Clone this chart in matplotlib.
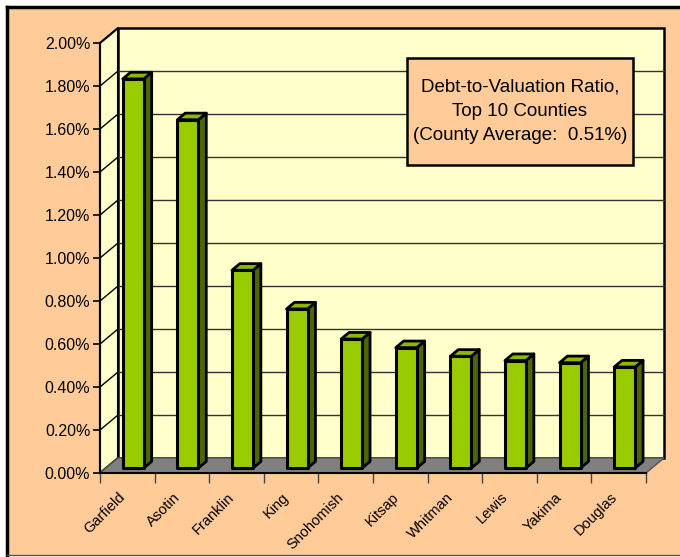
import numpy as np
import matplotlib
matplotlib.use("Agg")
import matplotlib.pyplot as plt
import matplotlib.transforms as mtransforms
from matplotlib.patches import Polygon, Rectangle
from matplotlib.ticker import FuncFormatter

counties = ["Garfield", "Asotin", "Franklin", "King", "Snohomish",
            "Kitsap", "Whitman", "Lewis", "Yakima", "Douglas"]
ratios = [0.0181, 0.0162, 0.0092, 0.0074, 0.0060,
          0.0056, 0.0052, 0.0050, 0.0049, 0.0047]
yticks = np.arange(0, 0.0201, 0.002)
title_lines = ["Debt-to-Valuation Ratio,", "Top 10 Counties", "(County Average:  0.51%)"]

W, H = 680, 557
fig = plt.figure(figsize=(W / 100, H / 100), dpi=100, facecolor="white")

# orange chart area with frame
fig.patches.append(Rectangle((7 / W, 1 - 555 / H), 1, (555 - 7) / H, transform=fig.transFigure,
                             facecolor="#FFCC99", edgecolor="none", zorder=-5))
fig.add_artist(plt.Line2D([7 / W, 1], [1 - 7 / H, 1 - 7 / H], color="black", lw=2.5))
fig.add_artist(plt.Line2D([7 / W, 7 / W], [1 - 555 / H, 1 - 7 / H], color="black", lw=2.5))
fig.add_artist(plt.Line2D([7 / W, 1], [1 - 555 / H, 1 - 555 / H], color="#555555", lw=1))

# front plane of the 3D box
left, right, top, bottom = 100, 646, 43, 473
ax = fig.add_axes([left / W, 1 - bottom / H, (right - left) / W, (bottom - top) / H])
ax.set_facecolor("none")
n = len(counties)
ax.set_xlim(0, n)
ax.set_ylim(0, 0.02)

# pixel -> data conversion for depth offsets
px_x = n / (right - left)
px_y = 0.02 / (bottom - top)
DX, DY = 18 * px_x, 15 * px_y

wall = "#FFFFCC"
kw = dict(clip_on=False)
# side wall, back wall, floor
ax.add_patch(Polygon([(0, 0), (0, 0.02), (DX, 0.02 + DY), (DX, DY)], closed=True,
                     facecolor=wall, edgecolor="black", lw=1.5, zorder=1, **kw))
ax.add_patch(Polygon([(DX, DY), (n + DX, DY), (n + DX, 0.02 + DY), (DX, 0.02 + DY)], closed=True,
                     facecolor=wall, edgecolor="black", lw=1.8, zorder=1, **kw))
for t in yticks[1:-1]:
    ax.plot([DX, n + DX], [t + DY, t + DY], color="#333333", lw=1, zorder=2, **kw)
for t in yticks[1:]:
    ax.plot([0, DX], [t, t + DY], color="black", lw=1, zorder=2, **kw)
ax.add_patch(Polygon([(0, 0), (n, 0), (n + DX, DY), (DX, DY)], closed=True,
                     facecolor="#808080", edgecolor="#555555", lw=1, zorder=3, **kw))

# bars
f0, f1 = 0.33, 0.77
hw = 10.5 * px_x
ddx, ddy = (f1 - f0) * DX, (f1 - f0) * DY
for i, v in enumerate(ratios):
    c = i + 0.5
    x0, x1 = c - hw + f0 * DX, c + hw + f0 * DX
    y0, y1 = f0 * DY, v + f0 * DY
    ax.add_patch(Polygon([(x1, y0), (x1 + ddx, y0 + ddy), (x1 + ddx, y1 + ddy), (x1, y1)],
                         closed=True, facecolor="#4D6600", edgecolor="black", lw=2,
                         joinstyle="round", zorder=4, **kw))
    ax.add_patch(Polygon([(x0, y1), (x1, y1), (x1 + ddx, y1 + ddy), (x0 + ddx, y1 + ddy)],
                         closed=True, facecolor="#8CB800", edgecolor="black", lw=2,
                         joinstyle="round", zorder=4, **kw))
    ax.add_patch(Rectangle((x0, y0), x1 - x0, v, facecolor="#99CC00", edgecolor="black",
                           lw=2.2, joinstyle="round", zorder=5, **kw))

# axes
for s in ["top", "right"]:
    ax.spines[s].set_visible(False)
ax.spines["left"].set_linewidth(1.5)
ax.spines["bottom"].set_linewidth(1.5)
ax.spines["left"].set_zorder(6)
ax.spines["bottom"].set_zorder(6)

font = ["Liberation Sans", "DejaVu Sans"]
ax.set_yticks(yticks)
ax.yaxis.set_major_formatter(FuncFormatter(lambda v, p: f"{v * 100:.2f}%"))
ax.tick_params(axis="y", direction="out", length=5, width=1.2, pad=2, labelsize=11.5)
for lab in ax.get_yticklabels():
    lab.set_family(font)

ax.set_xticks(np.arange(n + 1))
ax.set_xticklabels([])
ax.tick_params(axis="x", which="major", direction="out", length=7, width=1, color="#444444")

# rotated category labels
lab_tr = mtransforms.offset_copy(ax.transData, fig=fig, x=-9, y=-17, units="dots")
for i, name in enumerate(counties):
    ax.text(i + 0.5, 0, name, transform=lab_tr, rotation=45, ha="right", va="top",
            rotation_mode="anchor", fontsize=10.5, family=font, clip_on=False)

# title box
bx0, bx1, by0, by1 = 407, 633, 58, 165
fig.patches.append(Rectangle((bx0 / W, 1 - by1 / H), (bx1 - bx0) / W, (by1 - by0) / H,
                             transform=fig.transFigure, facecolor="#FFCC99",
                             edgecolor="black", lw=1.8, zorder=10))
fig.text((bx0 + bx1) / 2 / W, 1 - (by0 + by1) / 2 / H, "\n".join(title_lines),
         ha="center", va="center", fontsize=13.5, linespacing=1.55, zorder=11,
         family=["Liberation Sans Narrow", "Liberation Sans", "DejaVu Sans"])

fig.savefig("out.png", dpi=100, facecolor=fig.get_facecolor())
